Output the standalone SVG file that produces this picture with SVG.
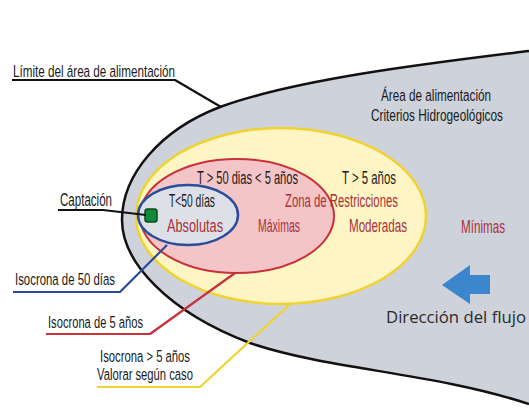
<svg xmlns="http://www.w3.org/2000/svg" width="529" height="410" viewBox="0 0 529 410">
<style>
.n{font-family:"Liberation Sans",Arial,sans-serif;font-size:17px;fill:#1a1a1a}
.z{font-size:18.5px}
.r{fill:#a8323a}
.o{font-family:"Open Sans","Noto Sans","Liberation Sans",sans-serif;font-size:17px;fill:#2b2b2b}
.lead{fill:none;stroke-width:2.2;stroke-linejoin:round}
</style>
<rect width="529" height="410" fill="#ffffff"/>
<g id="area-alimentacion">
<path d="M529,51 C440,62 300,78 220,107 C160,130 122,175 122,220 C122,262 168,312 250,343 C330,370 430,372 529,404 Z" fill="#ced2db"/>
<path d="M529,51 C440,62 300,78 220,107 C160,130 122,175 122,220 C122,262 168,312 250,343 C330,370 430,372 529,404" fill="none" stroke="#111" stroke-width="2.5"/>
<text class="n" transform="translate(381,101) scale(0.72,1)" textLength="152.8" lengthAdjust="spacingAndGlyphs">Área de alimentación</text>
<text class="n" transform="translate(371,121) scale(0.72,1)" textLength="183.3" lengthAdjust="spacingAndGlyphs">Criterios Hidrogeológicos</text>
<text class="n z r" transform="translate(461,233) scale(0.72,1)" textLength="61.1" lengthAdjust="spacingAndGlyphs">Mínimas</text>
</g>
<g id="isocrona-mas-5-anos">
<ellipse cx="281" cy="216" rx="145" ry="88" fill="#fdf5c4" stroke="#f0d230" stroke-width="2.5"/>
<text class="n z" transform="translate(342,184) scale(0.72,1)" textLength="75" lengthAdjust="spacingAndGlyphs">T &gt; 5 años</text>
<text class="n z r" transform="translate(349,232) scale(0.72,1)" textLength="80.6" lengthAdjust="spacingAndGlyphs">Moderadas</text>
</g>
<g id="isocrona-5-anos">
<ellipse cx="237" cy="216" rx="97" ry="57" fill="#f4c5c7" stroke="#c9303c" stroke-width="2"/>
<text class="n z" transform="translate(197,184) scale(0.72,1)" textLength="140.3" lengthAdjust="spacingAndGlyphs">T &gt; 50 dias &lt; 5 años</text>
<text class="n z r" transform="translate(258,232) scale(0.72,1)" textLength="58.3" lengthAdjust="spacingAndGlyphs">Máximas</text>
</g>
<text class="n z r" transform="translate(285,207) scale(0.72,1)" textLength="156.9" lengthAdjust="spacingAndGlyphs">Zona de Restricciones</text>
<g id="isocrona-50-dias">
<ellipse cx="188" cy="215" rx="50" ry="30" fill="#dde0e7" stroke="#2a4c9c" stroke-width="2.5"/>
<text class="n z" transform="translate(169,207) scale(0.72,1)" textLength="63.9" lengthAdjust="spacingAndGlyphs">T&lt;50 días</text>
<text class="n z r" transform="translate(167,232) scale(0.72,1)" textLength="77.8" lengthAdjust="spacingAndGlyphs">Absolutas</text>
</g>
<g id="captacion">
<rect x="145" y="209" width="12" height="13" rx="2.5" fill="#128a3c" stroke="#0a4a1e" stroke-width="1.5"/>
</g>
<g id="flujo">
<path d="M442,285 L470,265 L470,275 L490,275 L490,294 L470,294 L470,304 Z" fill="#3b86cc"/>
<text class="o" x="386" y="323" textLength="140" lengthAdjust="spacingAndGlyphs">Dirección del flujo</text>
</g>
<g id="labels">
<text class="n" transform="translate(13,77) scale(0.72,1)" textLength="225" lengthAdjust="spacingAndGlyphs">Límite del área de alimentación</text>
<text class="n z" transform="translate(60,206) scale(0.72,1)" textLength="72.2" lengthAdjust="spacingAndGlyphs">Captación</text>
<text class="n" transform="translate(15,285) scale(0.72,1)" textLength="138.9" lengthAdjust="spacingAndGlyphs">Isocrona de 50 días</text>
<text class="n" transform="translate(48,328) scale(0.72,1)" textLength="131.9" lengthAdjust="spacingAndGlyphs">Isocrona de 5 años</text>
<text class="n" transform="translate(100,362) scale(0.72,1)" textLength="125" lengthAdjust="spacingAndGlyphs">Isocrona &gt; 5 años</text>
<text class="n" transform="translate(97,380) scale(0.72,1)" textLength="133.3" lengthAdjust="spacingAndGlyphs">Valorar según caso</text>
</g>
<g id="connectors">
<polyline class="lead" points="12,80 175,80 221,107" stroke="#111"/>
<polyline class="lead" points="58,210 103,210 146,215" stroke="#111"/>
<polyline class="lead" points="13,292 120,292 167,245" stroke="#2a4c9c"/>
<polyline class="lead" points="46,334 150,334 235,273" stroke="#c9303c"/>
<polyline class="lead" points="97,387 200,387 290,304" stroke="#f0d230"/>
</g>
</svg>
